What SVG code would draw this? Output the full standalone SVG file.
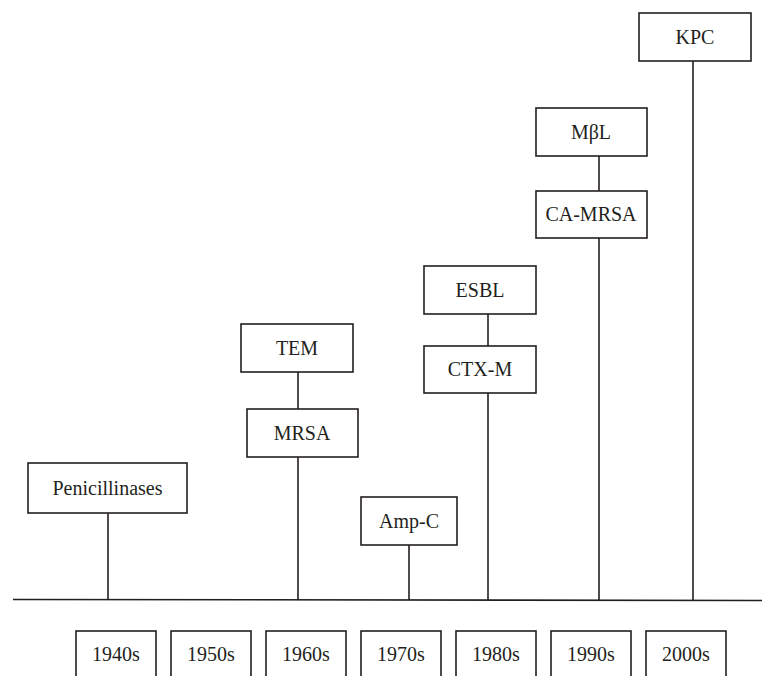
<svg xmlns="http://www.w3.org/2000/svg" width="762" height="676" viewBox="0 0 762 676">
<style>
.box{fill:#fff;stroke:#231f20;stroke-width:1.6}
.ln{stroke:#231f20;stroke-width:1.6;fill:none}
.t{font-family:"Times New Roman","Liberation Serif",Tinos,"DejaVu Serif",serif;font-size:20px;fill:#231f20;text-anchor:middle}
</style>
<rect width="762" height="676" fill="#fff"/>
<g id="connectors">
<line class="ln" x1="13" y1="599.5" x2="762" y2="600.5"/>
<line class="ln" x1="108" y1="513" x2="108" y2="599.5"/>
<line class="ln" x1="298" y1="372" x2="298" y2="409"/>
<line class="ln" x1="298" y1="457" x2="298" y2="600"/>
<line class="ln" x1="409" y1="545" x2="409" y2="600"/>
<line class="ln" x1="488" y1="314" x2="488" y2="346"/>
<line class="ln" x1="488" y1="393" x2="488" y2="600"/>
<line class="ln" x1="599" y1="156" x2="599" y2="191"/>
<line class="ln" x1="599" y1="238" x2="599" y2="600"/>
<line class="ln" x1="693" y1="61" x2="693" y2="600"/>
</g>
<g id="penicillinases"><rect class="box" x="28" y="463" width="159" height="50"/><text class="t" x="107.5" y="495">Penicillinases</text></g>
<g id="tem"><rect class="box" x="241" y="324" width="112" height="48"/><text class="t" x="297" y="355">TEM</text></g>
<g id="mrsa"><rect class="box" x="247" y="409" width="111" height="48"/><text class="t" x="302" y="440">MRSA</text></g>
<g id="ampc"><rect class="box" x="361" y="497" width="96" height="48"/><text class="t" x="409" y="528">Amp-C</text></g>
<g id="esbl"><rect class="box" x="424" y="266" width="112" height="48"/><text class="t" x="480" y="297">ESBL</text></g>
<g id="ctxm"><rect class="box" x="424" y="346" width="112" height="47"/><text class="t" x="480" y="376">CTX-M</text></g>
<g id="mbl"><rect class="box" x="536" y="108" width="111" height="48"/><text class="t" x="591" y="139">MβL</text></g>
<g id="camrsa"><rect class="box" x="536" y="191" width="111" height="47"/><text class="t" x="591" y="221">CA-MRSA</text></g>
<g id="kpc"><rect class="box" x="639" y="13" width="112" height="48"/><text class="t" x="695" y="44">KPC</text></g>
<g id="y1940"><rect class="box" x="76" y="631" width="80" height="60"/><text class="t" x="116" y="661">1940s</text></g>
<g id="y1950"><rect class="box" x="171" y="631" width="80" height="60"/><text class="t" x="211" y="661">1950s</text></g>
<g id="y1960"><rect class="box" x="266" y="631" width="80" height="60"/><text class="t" x="306" y="661">1960s</text></g>
<g id="y1970"><rect class="box" x="361" y="631" width="80" height="60"/><text class="t" x="401" y="661">1970s</text></g>
<g id="y1980"><rect class="box" x="456" y="631" width="80" height="60"/><text class="t" x="496" y="661">1980s</text></g>
<g id="y1990"><rect class="box" x="551" y="631" width="80" height="60"/><text class="t" x="591" y="661">1990s</text></g>
<g id="y2000"><rect class="box" x="646" y="631" width="80" height="60"/><text class="t" x="686" y="661">2000s</text></g>
</svg>
